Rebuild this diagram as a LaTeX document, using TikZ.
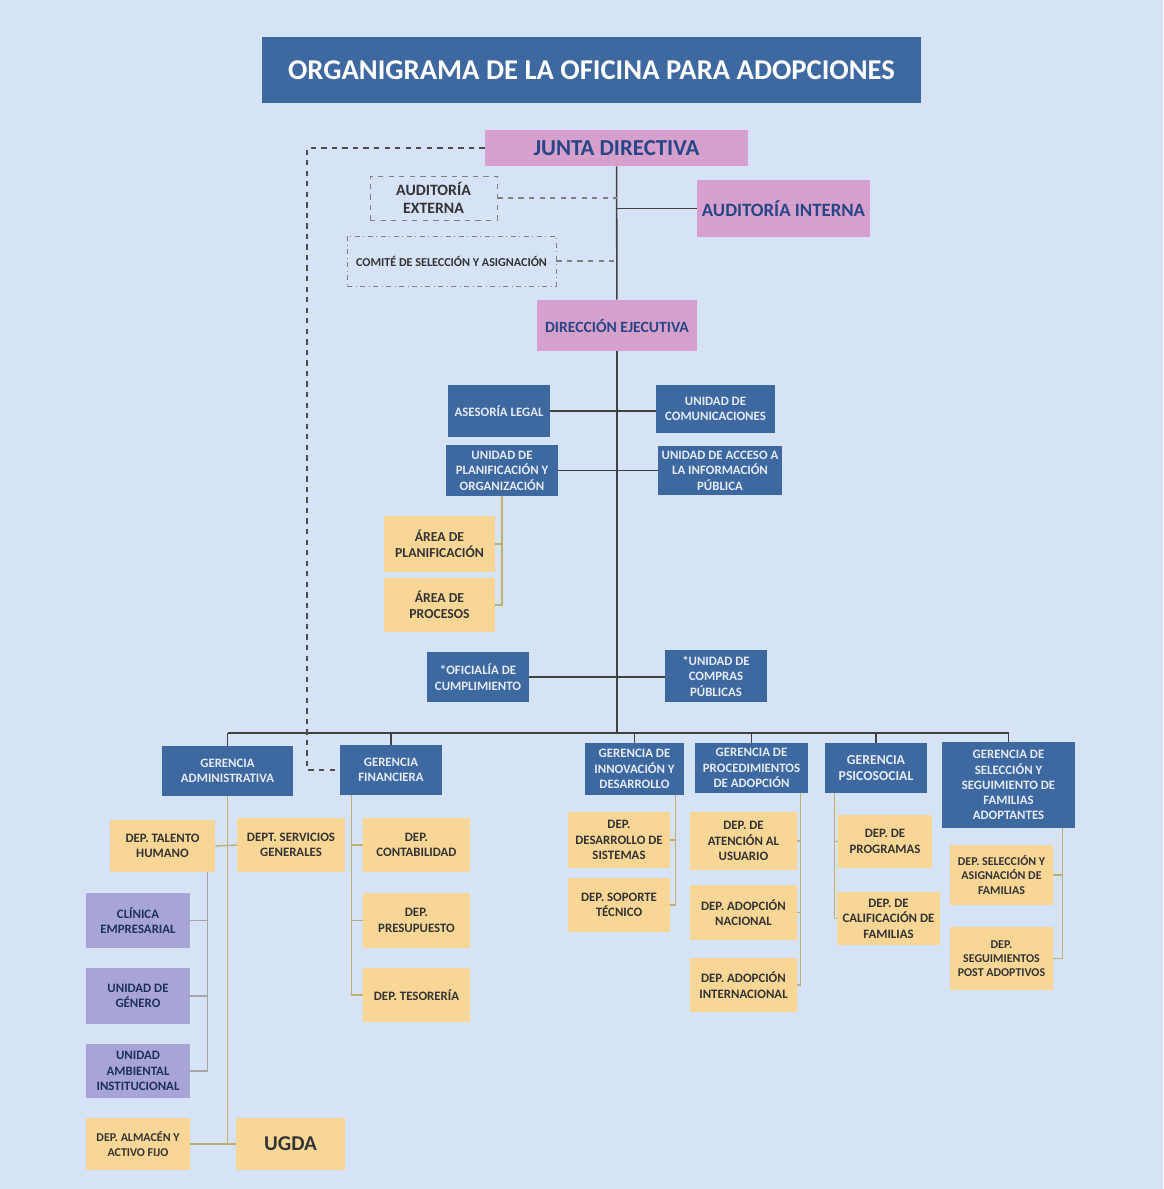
\documentclass[tikz,border=0pt]{standalone}
\usepackage{fontspec}
\setmainfont{Carlito}
\usepackage{tikz}
\usetikzlibrary{positioning, calc}

\definecolor{bgblue}{RGB}{214,227,246}
\definecolor{boxblue}{RGB}{62,104,160}
\definecolor{boxpink}{RGB}{214,160,204}
\definecolor{boxorange}{RGB}{248,214,150}
\definecolor{boxpurple}{RGB}{168,165,214}
\definecolor{navytxt}{RGB}{40,70,135}
\definecolor{paletxt}{RGB}{228,236,248}
\definecolor{sublinecol}{RGB}{190,176,110}

\begin{document}
\begin{tikzpicture}[x=0.02cm, y=-0.02cm]
    \tikzstyle{box}=[align=center, inner sep=1pt, font=\bfseries\fontsize{7.3}{8.8}\selectfont]
    \tikzstyle{blubox}=[box, fill=boxblue, text=paletxt]
    \tikzstyle{pinkbox}=[box, fill=boxpink, text=navytxt]
    \tikzstyle{orgbox}=[box, fill=boxorange, text=black!80]
    \tikzstyle{purbox}=[box, fill=boxpurple, text=navytxt!70!black]
    \tikzstyle{dashbox}=[box, draw=gray, dashed, text=black!80]
    \tikzstyle{mainline}=[black!75, line width=0.9pt]
    \tikzstyle{dashline}=[black!70, dashed, line width=0.8pt]
    \tikzstyle{subline}=[sublinecol, line width=0.8pt]
    \fill[bgblue] (0,0) rectangle (1163,1189);
    \useasboundingbox (0,0) rectangle (1163,1189);
    % top
    \draw (591.5,70) node[box, fill=boxblue, text=white, minimum width=13.18cm, minimum height=1.32cm, font=\bfseries\fontsize{16.3}{19}\selectfont] (title) {ORGANIGRAMA DE LA OFICINA PARA ADOPCIONES} ;
    \draw (616.5,148) node[pinkbox, minimum width=5.26cm, minimum height=0.72cm, font=\bfseries\fontsize{13}{15}\selectfont] (junta) {JUNTA DIRECTIVA} ;
    \draw (433.5,198) node[dashbox, minimum width=2.54cm, minimum height=0.88cm, font=\bfseries\fontsize{9}{10.5}\selectfont] (audext) {AUDITORÍA\\EXTERNA} ;
    \draw (783.5,208.5) node[pinkbox, minimum width=3.46cm, minimum height=1.14cm, font=\bfseries\fontsize{10.7}{12.5}\selectfont] (audint) {AUDITORÍA INTERNA} ;
    \draw (451.5,261) node[dashbox, dash dot, minimum width=4.18cm, minimum height=1.0cm, font=\bfseries\fontsize{6.9}{8}\selectfont] (comite) {COMITÉ DE SELECCIÓN Y ASIGNACIÓN} ;
    \draw (617,325.5) node[pinkbox, minimum width=3.2cm, minimum height=1.02cm, font=\bfseries\fontsize{8.9}{10.5}\selectfont] (direc) {DIRECCIÓN EJECUTIVA} ;
    % staff units
    \draw (499,411) node[blubox, minimum width=2.04cm, minimum height=1.04cm] (legal) {ASESORÍA LEGAL} ;
    \draw (715.5,409) node[blubox, minimum width=2.38cm, minimum height=0.96cm] (comun) {UNIDAD DE\\COMUNICACIONES} ;
    \draw (502,470.5) node[blubox, minimum width=2.24cm, minimum height=1.02cm] (planorg) {UNIDAD DE\\PLANIFICACIÓN Y\\ORGANIZACIÓN} ;
    \draw (720,470.5) node[blubox, minimum width=2.48cm, minimum height=0.98cm] (acceso) {UNIDAD DE ACCESO A\\LA INFORMACIÓN\\PÚBLICA} ;
    \draw (439.5,544) node[orgbox, minimum width=2.22cm, minimum height=1.12cm, font=\bfseries\fontsize{7.8}{9.3}\selectfont] (areaplan) {ÁREA DE\\PLANIFICACIÓN} ;
    \draw (439.5,605) node[orgbox, minimum width=2.22cm, minimum height=1.08cm, font=\bfseries\fontsize{7.8}{9.3}\selectfont] (areaproc) {ÁREA DE\\PROCESOS} ;
    \draw (478,677) node[blubox, minimum width=2.04cm, minimum height=1.0cm] (oficial) {*OFICIALÍA DE\\CUMPLIMIENTO} ;
    \draw (716,676) node[blubox, minimum width=2.04cm, minimum height=1.04cm] (compras) {*UNIDAD DE\\COMPRAS\\PÚBLICAS} ;
    % gerencias
    \draw (227.5,771) node[blubox, minimum width=2.62cm, minimum height=1.0cm] (geradm) {GERENCIA\\ADMINISTRATIVA} ;
    \draw (391,770) node[blubox, minimum width=2.04cm, minimum height=1.0cm] (gerfin) {GERENCIA\\FINANCIERA} ;
    \draw (634.5,769) node[blubox, minimum width=1.98cm, minimum height=1.04cm] (gerinn) {GERENCIA DE\\INNOVACIÓN Y\\DESARROLLO} ;
    \draw (751.5,768) node[blubox, minimum width=2.26cm, minimum height=1.0cm] (gerproc) {GERENCIA DE\\PROCEDIMIENTOS\\DE ADOPCIÓN} ;
    \draw (876,768) node[blubox, minimum width=2.04cm, minimum height=1.0cm, font=\bfseries\fontsize{7.8}{9.3}\selectfont] (gerpsi) {GERENCIA\\PSICOSOCIAL} ;
    \draw (1008.5,785) node[blubox, minimum width=2.66cm, minimum height=1.72cm, font=\bfseries\fontsize{7.3}{8.6}\selectfont] (gersel) {GERENCIA DE\\SELECCIÓN Y\\SEGUIMIENTO DE\\FAMILIAS\\ADOPTANTES} ;
    % departamentos
    \draw (162.5,846) node[orgbox, minimum width=2.1cm, minimum height=1.04cm] (talento) {DEP. TALENTO\\HUMANO} ;
    \draw (291,845) node[orgbox, minimum width=2.16cm, minimum height=1.08cm] (servicios) {DEPT. SERVICIOS\\GENERALES} ;
    \draw (138,920.5) node[purbox, minimum width=2.08cm, minimum height=1.1cm] (clinica) {CLÍNICA\\EMPRESARIAL} ;
    \draw (138,996) node[purbox, minimum width=2.08cm, minimum height=1.12cm] (genero) {UNIDAD DE\\GÉNERO} ;
    \draw (138,1071) node[purbox, minimum width=2.08cm, minimum height=1.08cm] (ambiental) {UNIDAD\\AMBIENTAL\\INSTITUCIONAL} ;
    \draw (138,1144) node[orgbox, minimum width=2.08cm, minimum height=1.04cm, font=\bfseries\fontsize{6.8}{8.2}\selectfont] (almacen) {DEP. ALMACÉN Y\\ACTIVO FIJO} ;
    \draw (290.5,1144) node[orgbox, minimum width=2.18cm, minimum height=1.04cm, font=\bfseries\fontsize{12}{14}\selectfont] (ugda) {UGDA} ;
    \draw (416.5,845) node[orgbox, minimum width=2.14cm, minimum height=1.08cm] (conta) {DEP.\\CONTABILIDAD} ;
    \draw (416.5,920.5) node[orgbox, minimum width=2.14cm, minimum height=1.1cm] (presu) {DEP.\\PRESUPUESTO} ;
    \draw (416.5,995) node[orgbox, minimum width=2.14cm, minimum height=1.08cm] (teso) {DEP. TESORERÍA} ;
    \draw (619,840) node[orgbox, minimum width=2.04cm, minimum height=1.12cm] (dessis) {DEP.\\DESARROLLO DE\\SISTEMAS} ;
    \draw (619,905) node[orgbox, minimum width=2.04cm, minimum height=1.08cm] (soporte) {DEP. SOPORTE\\TÉCNICO} ;
    \draw (743.5,841) node[orgbox, minimum width=2.14cm, minimum height=1.16cm] (atencion) {DEP. DE\\ATENCIÓN AL\\USUARIO} ;
    \draw (743.5,912.5) node[orgbox, minimum width=2.14cm, minimum height=1.1cm] (nacional) {DEP. ADOPCIÓN\\NACIONAL} ;
    \draw (743.5,985) node[orgbox, minimum width=2.14cm, minimum height=1.08cm] (internac) {DEP. ADOPCIÓN\\INTERNACIONAL} ;
    \draw (885,841.5) node[orgbox, minimum width=1.88cm, minimum height=1.06cm] (program) {DEP. DE\\PROGRAMAS} ;
    \draw (888.5,918.5) node[orgbox, minimum width=2.06cm, minimum height=1.06cm] (calif) {DEP. DE\\CALIFICACIÓN DE\\FAMILIAS} ;
    \draw (1001.5,875) node[orgbox, minimum width=2.06cm, minimum height=1.2cm, font=\bfseries\fontsize{6.8}{8}\selectfont] (selasig) {DEP. SELECCIÓN Y\\ASIGNACIÓN DE\\FAMILIAS} ;
    \draw (1001.5,958.5) node[orgbox, minimum width=2.06cm, minimum height=1.26cm, font=\bfseries\fontsize{6.8}{8}\selectfont] (postad) {DEP.\\SEGUIMIENTOS\\POST ADOPTIVOS} ;
    % main structure
    \coordinate (bus) at (617,733) ;
    \coordinate (dl) at (307,148) ;
    \draw[mainline] (junta) -- (direc) ;
    \draw[mainline] (direc) -- (bus) ;
    \draw[mainline] (geradm.north |- bus) -- (gersel.north |- bus) ;
    \foreach \g in {geradm, gerfin, gerinn, gerproc, gerpsi, gersel}
        \draw[mainline] (\g.north |- bus) -- (\g.north) ;
    \draw[dashline] (junta.west) -- (dl) |- (gerfin.west) ;
    \draw[dashline, gray] (audext.east) -- (audext.east -| junta.south) ;
    \draw[dashline, gray] (comite.east) -- (comite.east -| junta.south) ;
    \draw[mainline] (audint.west -| junta.south) -- (audint.west) ;
    \draw[mainline] (legal.east) -- (legal.east -| comun.west) ;
    \draw[mainline] (planorg.east) -- (planorg.east -| acceso.west) ;
    \draw[mainline] (oficial.east) -- (oficial.east -| compras.west) ;
    % sub connectors
    \draw[subline] (planorg.south) |- (areaproc.east) ;
    \draw[subline] (areaplan.east) -- (areaplan.east -| planorg.south) ;
    \draw[subline] (geradm.south) -- (geradm.south |- ugda.west) ;
    \draw[subline] (almacen.east) -- (ugda.west) ;
    \draw[subline] (talento.east) -- (servicios.west) ;
    \coordinate (th) at ([xshift=-0.16cm]talento.south east) ;
    \draw[subline, gray!70] (th) |- (ambiental.east) ;
    \draw[subline, gray!70] (clinica.east) -- (clinica.east -| th) ;
    \draw[subline, gray!70] (genero.east) -- (genero.east -| th) ;
    \coordinate (gf) at ([xshift=0.24cm]gerfin.south west) ;
    \draw[subline] (gf) |- (teso.west) ;
    \draw[subline] (conta.west) -- (conta.west -| gf) ;
    \draw[subline] (presu.west) -- (presu.west -| gf) ;
    \coordinate (gi) at ([xshift=-0.18cm]gerinn.south east) ;
    \draw[subline] (gi) |- (soporte.east) ;
    \draw[subline] (dessis.east) -- (dessis.east -| gi) ;
    \coordinate (gp) at ([xshift=-0.16cm]gerproc.south east) ;
    \draw[subline] (gp) |- (internac.east) ;
    \draw[subline] (atencion.east) -- (atencion.east -| gp) ;
    \draw[subline] (nacional.east) -- (nacional.east -| gp) ;
    \coordinate (gs) at ([xshift=0.2cm]gerpsi.south west) ;
    \draw[subline] (gs) |- (calif.west) ;
    \draw[subline] (program.west) -- (program.west -| gs) ;
    \coordinate (gg) at ([xshift=-0.26cm]gersel.south east) ;
    \draw[subline] (gg) |- (postad.east) ;
    \draw[subline] (selasig.east) -- (selasig.east -| gg) ;
\end{tikzpicture}
\end{document}
